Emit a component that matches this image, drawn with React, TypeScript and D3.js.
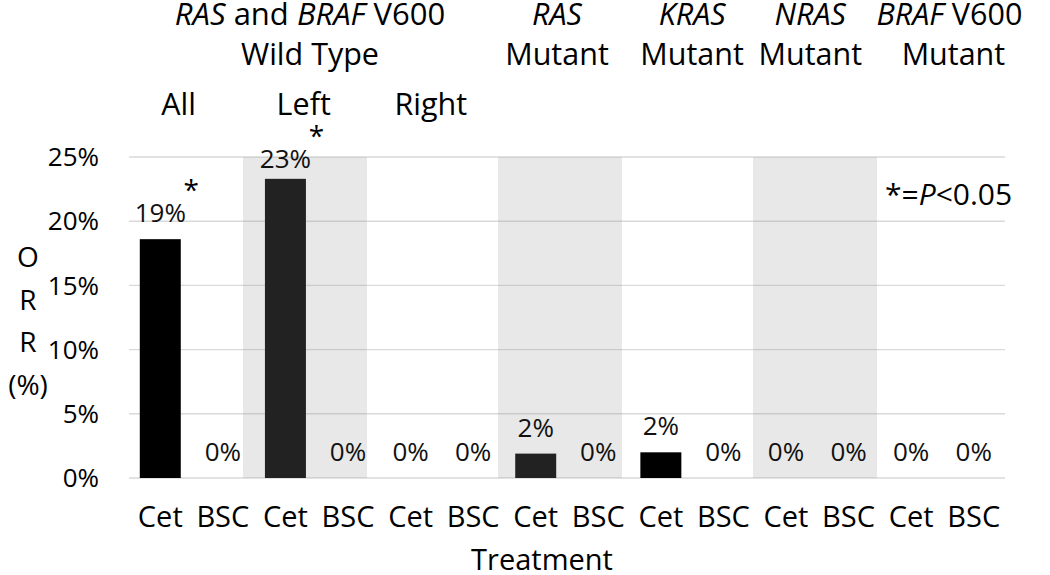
import React from "react";
import * as d3 from "d3";

// groups and treatments
const groups = ["All", "Left", "Right", "RAS", "KRAS", "NRAS", "BRAF"];
const treatments = ["Cet", "BSC"];
// ORR values (fraction), Cet and BSC per group
const cetValues = [0.186, 0.233, 0, 0.019, 0.02, 0, 0];
const bscValues = [0, 0, 0, 0, 0, 0, 0];
const cetLabels = ["19%", "23%", "0%", "2%", "2%", "0%", "0%"];
const bscLabels = ["0%", "0%", "0%", "0%", "0%", "0%", "0%"];
const cetSignificant = [true, true, false, false, false, false, false];
const shadedGroups = ["Left", "RAS", "NRAS"];
const yTicks = [0, 0.05, 0.1, 0.15, 0.2, 0.25];
const wildSubLabels = ["All", "Left", "Right"];
const mutantGenes = ["RAS", "KRAS", "NRAS", "BRAF"];
const mutantSuffix = ["", "", "", " V600"];
const yTitle = ["O", "R", "R", "(%)"];

const W = 1050, H = 575;
const FONT = "'Open Sans', 'DejaVu Sans', sans-serif";

const App = () => {
  const keys = groups.flatMap(g => treatments.map(t => `${g}|${t}`));

  //x scale for each bar
  const x = d3.scaleBand().domain(keys).range([129, 1005]).paddingInner(0.345).paddingOuter(0.1725);
  const gx = d3.scaleBand().domain(groups).range([129, 1005]);
  // shading bands
  const shadeX = d3.scaleBand().domain(groups).range([115.5, 1004.5]).paddingInner(0.0275);
  const y = d3.scaleLinear().domain([0, 0.25]).range([478, 157]);

  const bars = groups.flatMap((g, i) => [
    { key: `${g}|Cet`, v: cetValues[i], label: cetLabels[i], sig: cetSignificant[i] },
    { key: `${g}|BSC`, v: bscValues[i], label: bscLabels[i], sig: false },
  ]);

  const gc = (g: string) => (gx(g) as number) + gx.bandwidth() / 2;
  const subOffsets = [-13, -13, -11];
  const mutOffsets = [-10, 0, -7, 7];
  const mutantCenter = ["RAS", "KRAS", "NRAS", "BRAF"];

  return (
    <svg width={W} height={H} style={{ position: "absolute", left: 0, top: 0 }} fontFamily={FONT}>
      <rect width={W} height={H} fill="#fff" />
      {/* gridlines */}
      {yTicks.map(t => (
        <line key={t} x1={129} x2={1005} y1={y(t)} y2={y(t)} stroke="#d9d9d9" strokeWidth={1.4} />
      ))}
      {/* bars */}
      {bars.map(b => (
        <rect key={b.key} x={x(b.key)} width={x.bandwidth()} y={y(b.v)} height={y(0) - y(b.v)} fill="#000" />
      ))}
      {/* shading overlay */}
      {shadedGroups.map(g => (
        <rect key={g} x={shadeX(g)} width={shadeX.bandwidth()} y={y(0.25)} height={y(0) - y(0.25)}
          fill="rgb(152,152,152)" fillOpacity={0.224} />
      ))}
      {/* value labels */}
      {bars.map(b => {
        const cx = (x(b.key) as number) + x.bandwidth() / 2;
        const ly = Math.max(y(b.v) - 17, y(0.25) + 11);
        return (
          <g key={b.key}>
            <text x={cx} y={ly} textAnchor="middle" fontSize={26} fill="#111">{b.label}</text>
            {b.sig && <text x={cx + 31} y={ly - 22} textAnchor="middle" fontSize={28} fill="#000">*</text>}
          </g>
        );
      })}
      {/* y ticks */}
      {yTicks.map(t => (
        <text key={t} x={99} y={y(t)} dy="0.35em" textAnchor="end" fontSize={26} fill="#000">
          {d3.format(".0%")(t)}
        </text>
      ))}
      {/* y title */}
      {yTitle.map((s, i) => (
        <text key={i} x={28} y={267 + i * 42.5} textAnchor="middle" fontSize={28} fill="#000">{s}</text>
      ))}
      {/* x labels */}
      {keys.map(k => (
        <text key={k} x={(x(k) as number) + x.bandwidth() / 2} y={527} textAnchor="middle" fontSize={29} fill="#000">
          {k.split("|")[1]}
        </text>
      ))}
      <text x={542} y={570} textAnchor="middle" fontSize={29} fill="#000">Treatment</text>
      {/* headers */}
      <text x={310} y={25} textAnchor="middle" fontSize={31} fill="#000">
        <tspan fontStyle="italic">RAS</tspan> and <tspan fontStyle="italic">BRAF</tspan> V600
      </text>
      <text x={310} y={65} textAnchor="middle" fontSize={30.5} fill="#000">Wild Type</text>
      {wildSubLabels.map((s, i) => (
        <text key={s} x={gc(groups[i]) + subOffsets[i]} y={115} textAnchor="middle" fontSize={30.5} fill="#000">{s}</text>
      ))}
      {mutantGenes.map((g, i) => (
        <g key={g}>
          <text x={gc(mutantCenter[i]) + mutOffsets[i]} y={25} textAnchor="middle" fontSize={30.5} fill="#000">
            <tspan fontStyle="italic">{g}</tspan>{mutantSuffix[i]}
          </text>
          <text x={gc(mutantCenter[i]) + mutOffsets[i] + (i === 3 ? 4 : 0)} y={65} textAnchor="middle" fontSize={30.5} fill="#000">Mutant</text>
        </g>
      ))}
      {/* legend */}
      <text x={885} y={205} fontSize={30} fill="#000">
        *=<tspan fontStyle="italic">P</tspan>&lt;0.05
      </text>
    </svg>
  );
};

export default App;
